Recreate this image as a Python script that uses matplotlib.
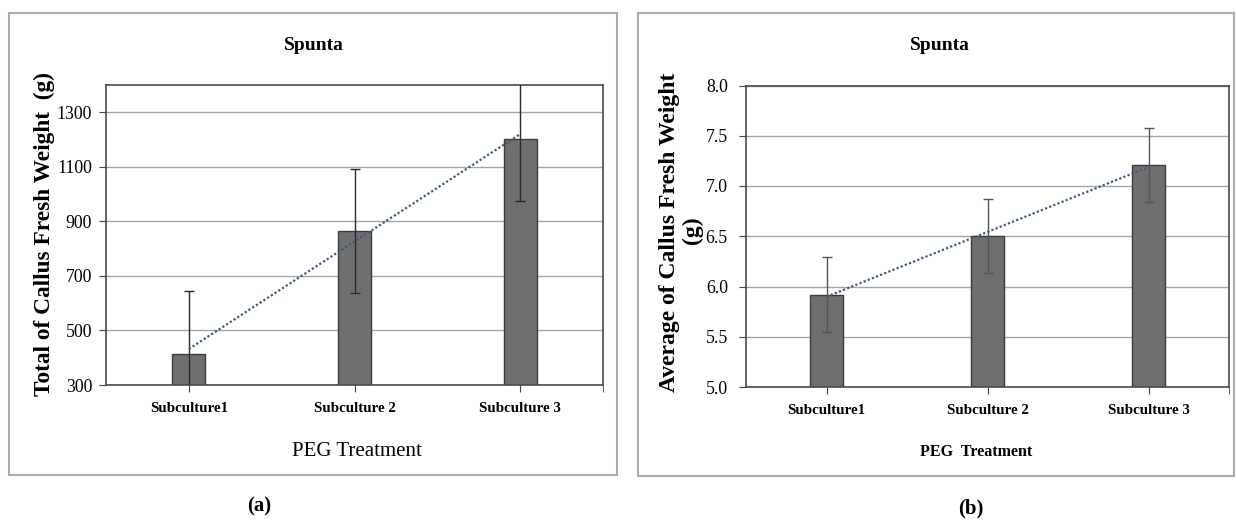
import numpy as np
import matplotlib
matplotlib.use('Agg')
import matplotlib.pyplot as plt
from matplotlib.patches import Rectangle
from matplotlib.ticker import FormatStrFormatter

categories = ['Subculture1', 'Subculture 2', 'Subculture 3']
total_weight = [413, 864, 1201]
total_err = [230, 227, 228]
avg_weight = [5.92, 6.50, 7.21]
avg_err = [0.37, 0.37, 0.37]
total_ticks = [300, 500, 700, 900, 1100, 1300]
avg_ticks = [5.0, 5.5, 6.0, 6.5, 7.0, 7.5, 8.0]

plt.rcParams['font.family'] = ['Liberation Serif', 'DejaVu Serif']

W, H = 1236, 524
fig = plt.figure(figsize=(W / 100, H / 100), dpi=100)
fig.patch.set_facecolor('white')


def fx(px):
    return px / W


def fy(py):
    return 1 - py / H


# panel frames
for (x0, y0, x1, y1) in [(9, 13, 617, 475), (638, 13, 1234, 476)]:
    fig.patches.append(Rectangle((fx(x0), fy(y1)), fx(x1) - fx(x0), fy(y0) - fy(y1),
                                 transform=fig.transFigure, fill=False,
                                 edgecolor='#ababab', lw=1.5))

ax1 = fig.add_axes([fx(106), fy(385), fx(603) - fx(106), fy(85) - fy(385)])
ax2 = fig.add_axes([fx(746), fy(387), fx(1229) - fx(746), fy(85.5) - fy(387)])


def draw(ax, vals, errs, ticks, ylim, fmt, ecolor, ypad):
    x = np.arange(len(categories))
    ax.bar(x, vals, width=0.2, color='#6f6f6f', edgecolor='#3c3c3c', lw=1.0, zorder=2)
    ax.errorbar(x, vals, yerr=errs, fmt='none', ecolor=ecolor, elinewidth=1,
                capsize=3.5, capthick=1, zorder=3)
    coef = np.polyfit(x, vals, 1)
    ax.plot(x, np.polyval(coef, x), ls=(0, (1, 1)), color='#3f5a7e', lw=1.6, zorder=4)
    ax.set_xlim(-0.5, 2.5)
    ax.set_ylim(*ylim)
    ax.set_yticks(ticks)
    ax.yaxis.set_major_formatter(FormatStrFormatter(fmt))
    ax.grid(axis='y', color='#a5a5a5', lw=1)
    ax.set_axisbelow(True)
    ax.set_xticks(x)
    ax.set_xticklabels(categories, fontweight='bold', fontsize=10.8)
    ax.set_xticks([2.5], minor=True)
    ax.tick_params(axis='x', which='both', direction='out', length=5,
                   color='#404040', pad=7)
    ax.tick_params(axis='y', direction='out', length=5, color='#404040',
                   pad=ypad, labelsize=12.8)
    for s in ax.spines.values():
        s.set_color('#4a4a4a')
        s.set_linewidth(1.2)


draw(ax1, total_weight, total_err, total_ticks, (300, 1400), '%d', '#2a2a2a', 5)
draw(ax2, avg_weight, avg_err, avg_ticks, (5.0, 8.0), '%.1f', '#555555', 8)

# titles
fig.text(fx(314), fy(45), 'Spunta', ha='center', va='center', fontsize=14, fontweight='bold')
fig.text(fx(940), fy(45), 'Spunta', ha='center', va='center', fontsize=14, fontweight='bold')

# axis labels
fig.text(fx(44), fy(234), 'Total of Callus Fresh Weight  (g)', rotation=90,
         ha='center', va='center', fontsize=16.8, fontweight='bold')
fig.text(fx(669), fy(232), 'Average of Callus Fresh Weight', rotation=90,
         ha='center', va='center', fontsize=17, fontweight='bold')
fig.text(fx(692), fy(230), '(g)', rotation=90,
         ha='center', va='center', fontsize=17, fontweight='bold')

fig.text(fx(357), fy(452), 'PEG Treatment', ha='center', va='center', fontsize=15)
fig.text(fx(976), fy(452), 'PEG  Treatment', ha='center', va='center', fontsize=11.5,
         fontweight='bold')

# panel letters
fig.text(fx(259), fy(506), '(a)', ha='center', va='center', fontsize=15, fontweight='bold')
fig.text(fx(971), fy(508), '(b)', ha='center', va='center', fontsize=15, fontweight='bold')

fig.savefig('out.png', dpi=100, facecolor='white')
